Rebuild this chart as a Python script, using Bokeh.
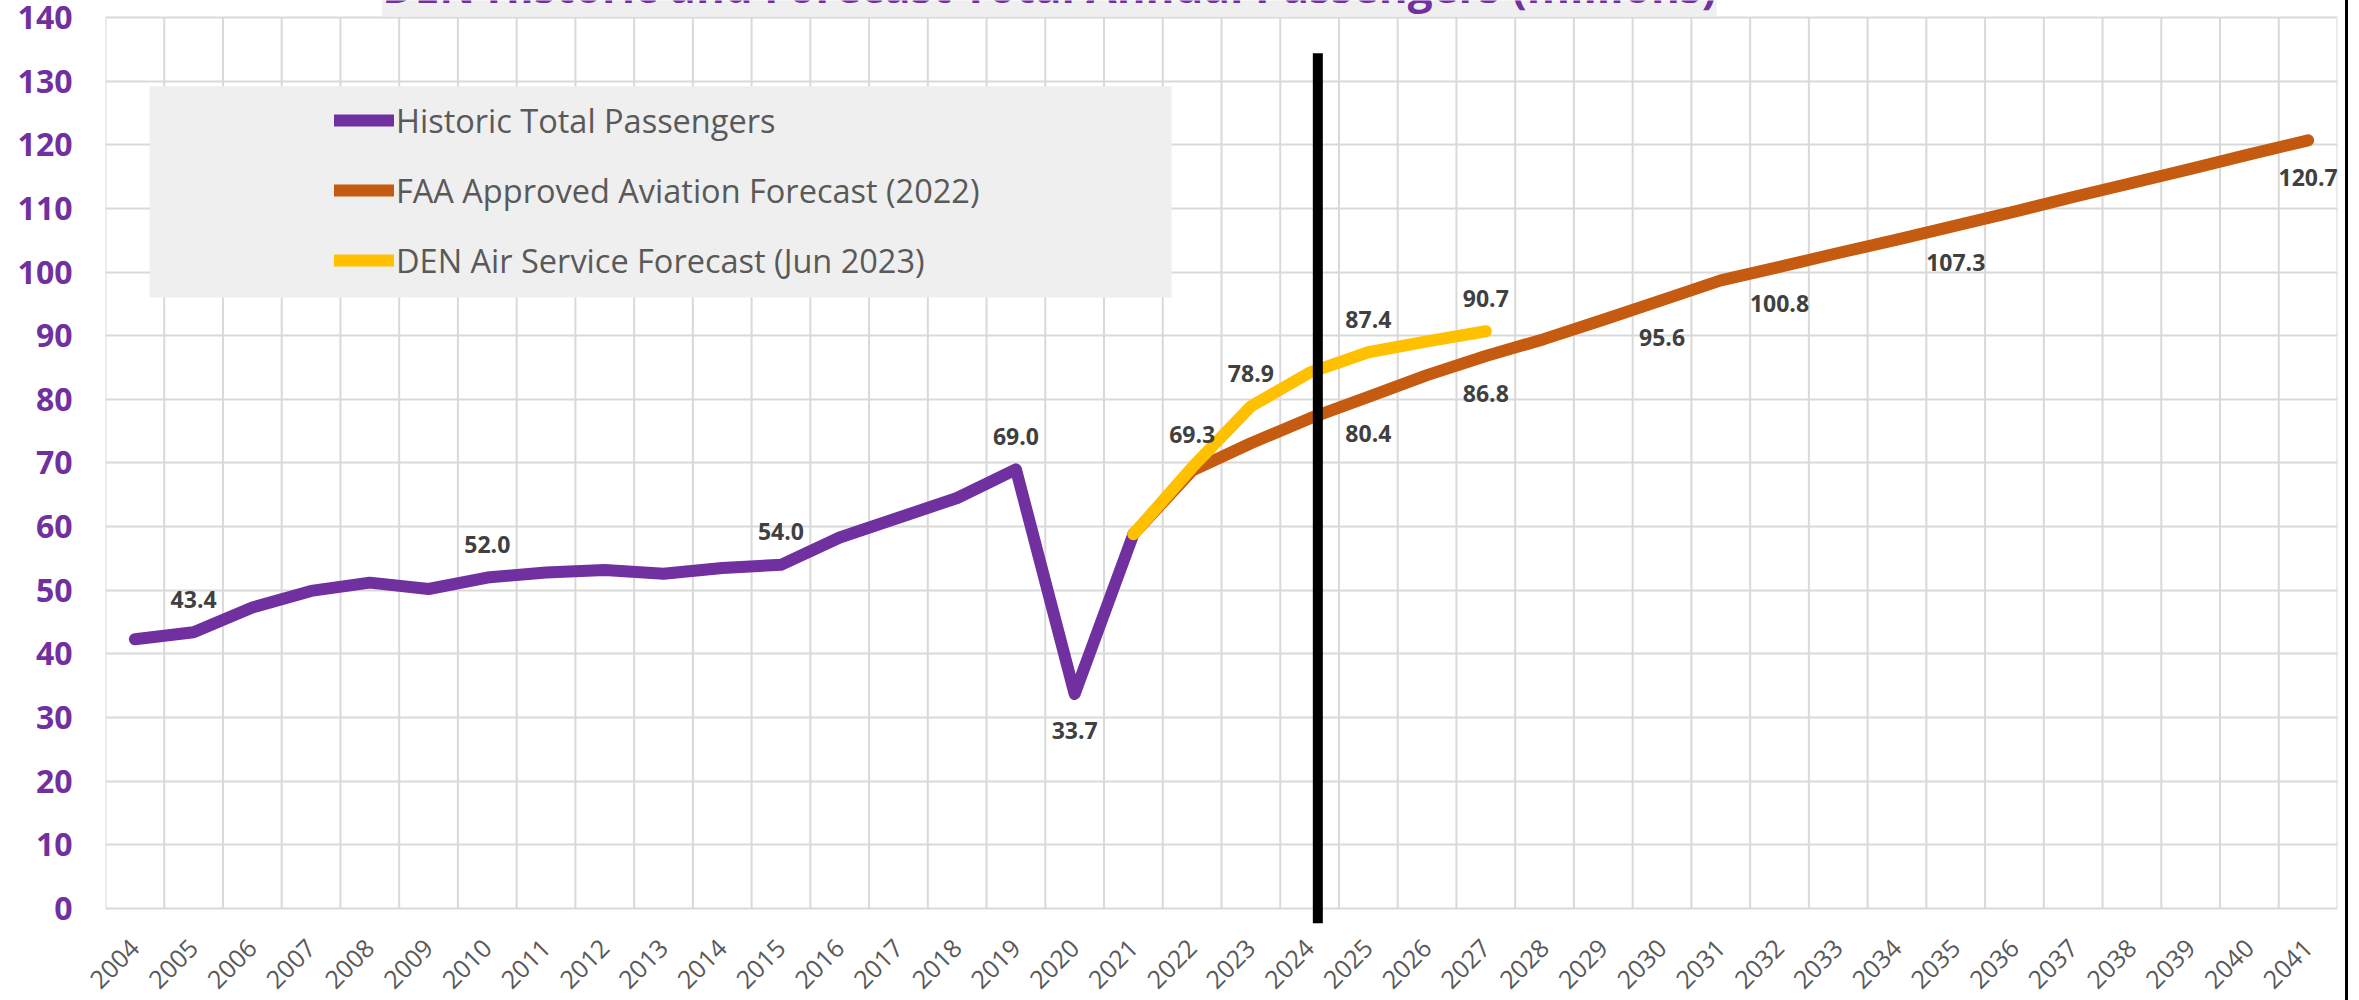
import math
from bokeh.plotting import figure
from bokeh.models import (Range1d, FixedTicker, Legend, LegendItem, Label,
                          BoxAnnotation, ColumnDataSource)
from bokeh.core.properties import value
from bokeh.embed import file_html
from bokeh.resources import INLINE

# ---------------- data ----------------
title_text = "DEN Historic and Forecast Total Annual Passengers (millions)"
series_names = ["Historic Total Passengers",
                "FAA Approved Aviation Forecast (2022)",
                "DEN Air Service Forecast (Jun 2023)"]
years = list(range(2004, 2042))
year_labels = [str(y) for y in years]

hist_years = list(range(2004, 2022))
hist_values = [42.3, 43.4, 47.3, 49.9, 51.2, 50.2, 52.0, 52.8, 53.2, 52.6,
               53.5, 54.0, 58.3, 61.4, 64.5, 69.0, 33.7, 58.8]

faa_years = list(range(2021, 2042))
faa_values = [58.8, 68.8, 73.1, 77.0, 80.4, 83.8, 86.8, 89.5, 92.5, 95.6,
              98.7, 100.8, 103.0, 105.1, 107.3, 109.5, 111.8, 114.0, 116.2,
              118.5, 120.7]

den_years = list(range(2021, 2028))
den_values = [58.8, 69.3, 78.9, 84.2, 87.4, 89.1, 90.7]

hist_label_above = [2005, 2010, 2015, 2019]
hist_label_below = [2020]
faa_label_below = [2025, 2027, 2030, 2032, 2035, 2041]
den_label_above = [2022, 2023, 2025, 2027]

y_ticks = list(range(0, 141, 10))
today_marker_x = 2024.14
today_marker_top = 134.4
today_marker_bottom = -2.36
view_top = 142.67   # a little white space above the 140 grid line

# ---------------- styles ----------------
PURPLE = "#7030A0"
ORANGE = "#C55A11"
YELLOW = "#FFC000"
GRID = "#D9D9D9"
FONT = "Open Sans"

p = figure(width=2348, height=1000, output_backend="svg", toolbar_location=None,
           title=None,
           x_range=Range1d(years[0] - 0.5, years[-1] + 0.5),
           y_range=Range1d(today_marker_bottom, view_top),
           min_border_left=105, min_border_right=11, min_border_top=0,
           min_border_bottom=77)
p.styles = {"border-right": "3px solid black"}
p.outline_line_color = None
p.background_fill_color = "white"
p.border_fill_color = "white"

# vertical grid lines between categories (from the 0 line to the 140 line)
p.xgrid.visible = False
bounds = [y - 0.5 for y in years] + [years[-1] + 0.5]
p.segment(x0=bounds, y0=[y_ticks[0]] * len(bounds), x1=bounds,
          y1=[y_ticks[-1]] * len(bounds), line_color=GRID, line_width=2)
p.ygrid.ticker = FixedTicker(ticks=y_ticks)
p.ygrid.grid_line_color = GRID
p.ygrid.grid_line_width = 2

# axes
p.xaxis.ticker = FixedTicker(ticks=years)
p.xaxis.major_label_overrides = {y: lab for y, lab in zip(years, year_labels)}
p.xaxis.major_label_orientation = math.pi / 4
p.xaxis.major_label_text_font = FONT
p.xaxis.major_label_text_font_size = "25px"
p.xaxis.major_label_text_color = "#595959"
p.xaxis.major_label_standoff = 20
p.yaxis.ticker = FixedTicker(ticks=y_ticks)
p.yaxis.major_label_text_font = FONT
p.yaxis.major_label_text_font_style = "bold"
p.yaxis.major_label_text_font_size = "32px"
p.yaxis.major_label_text_color = PURPLE
p.yaxis.major_label_standoff = 33
for ax in (p.xaxis, p.yaxis):
    ax.axis_line_color = None
    ax.major_tick_line_color = None
    ax.minor_tick_line_color = None
    ax.major_tick_out = 0
    ax.major_tick_in = 0
    ax.minor_tick_out = 0
    ax.minor_tick_in = 0

# lines
r_hist = p.line(hist_years, hist_values, line_color=PURPLE, line_width=12,
                line_cap="round", line_join="round")
r_faa = p.line(faa_years, faa_values, line_color=ORANGE, line_width=12,
               line_cap="round", line_join="round")
r_den = p.line(den_years, den_values, line_color=YELLOW, line_width=12,
               line_cap="round", line_join="round")

# current-year marker
p.segment(x0=[today_marker_x], y0=[today_marker_bottom], x1=[today_marker_x],
          y1=[today_marker_top], line_color="black", line_width=10)

# data labels
def label_source(xs, ys, picks):
    sel = [(x, v) for x, v in zip(xs, ys) if x in picks]
    return ColumnDataSource(dict(x=[s[0] for s in sel], y=[s[1] for s in sel],
                                 t=[f"{s[1]:.1f}" for s in sel]))

lab_kw = dict(text="t", text_font=value(FONT), text_font_style="bold",
              text_font_size="23px", text_color="#404040",
              text_align="center", text_baseline="middle")
p.text(x="x", y="y", source=label_source(hist_years, hist_values, hist_label_above),
       y_offset=-33, **lab_kw)
p.text(x="x", y="y", source=label_source(hist_years, hist_values, hist_label_below),
       y_offset=36, **lab_kw)
p.text(x="x", y="y", source=label_source(faa_years, faa_values, faa_label_below),
       y_offset=37, **lab_kw)
p.text(x="x", y="y", source=label_source(den_years, den_values, den_label_above),
       y_offset=-33, **lab_kw)

# legend background and legend
p.add_layout(BoxAnnotation(left=2004.25, right=2021.65, bottom=96.0, top=129.2,
                           fill_color="#EFEFEF", fill_alpha=1.0, line_color=None))
legend = Legend(items=[LegendItem(label=series_names[0], renderers=[r_hist]),
                       LegendItem(label=series_names[1], renderers=[r_faa]),
                       LegendItem(label=series_names[2], renderers=[r_den])],
                location=(229, 638), orientation="vertical",
                background_fill_alpha=0, border_line_color=None,
                padding=10, margin=0, spacing=20,
                label_height=50, glyph_height=50, glyph_width=60,
                label_standoff=2, label_text_font=FONT,
                label_text_font_size="32.5px", label_text_color="#595959")
p.add_layout(legend)

# title (cut off at the top, as in the source image)
p.add_layout(Label(x=2019.57, y=140.2, text=title_text, text_align="center",
                   text_baseline="bottom", text_font=FONT, text_font_style="bold",
                   text_font_size="44px", text_color=PURPLE,
                   background_fill_color="#EFEFEF"))

open("out.html", "w").write(file_html(p, INLINE))
